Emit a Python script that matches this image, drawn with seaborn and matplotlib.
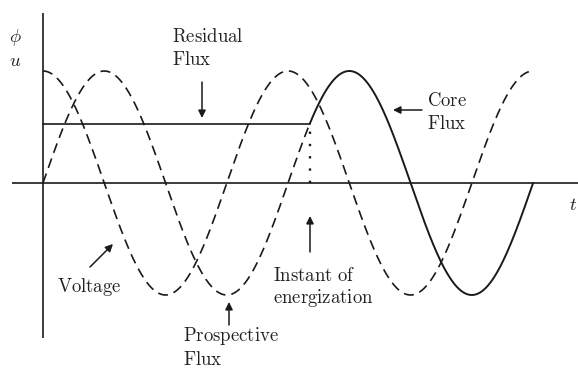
import numpy as np
import pandas as pd
import matplotlib
matplotlib.use("Agg")
import matplotlib.pyplot as plt
import seaborn as sns

# Waveform description (per-unit amplitude, angle in radians of wt)
amplitude = [1.0, 1.0]            # voltage, prospective/core flux
phase_shift = [np.pi / 2, 0.0]    # voltage leads flux by 90 degrees
span_cycles = [2.0]               # both waveforms shown over two cycles
residual_flux = [0.53]            # remanent flux before switching

# Figure geometry: pixels per radian / per unit, origin position in pixels
W, H = 578, 369
ORIGIN_PX = (43, 183)
PX_PER_RAD = 39.0
PX_PER_PU = 112.0

sns.set_theme(style="white")
plt.rcParams["mathtext.fontset"] = "cm"
plt.rcParams["font.family"] = ["DejaVu Serif"]

fig = plt.figure(figsize=(W / 100, H / 100), dpi=100)
ax = fig.add_axes([0, 0, 1, 1])
ax.set_xlim(-ORIGIN_PX[0] / PX_PER_RAD, (W - ORIGIN_PX[0]) / PX_PER_RAD)
ax.set_ylim(-(H - ORIGIN_PX[1]) / PX_PER_PU, ORIGIN_PX[1] / PX_PER_PU)
ax.axis("off")


def at(xp, yp):
    """Layout helper: pixel position -> data coordinates."""
    return ((xp - ORIGIN_PX[0]) / PX_PER_RAD, (ORIGIN_PX[1] - yp) / PX_PER_PU)


ink = "#1a1a1a"
lw = 1.2
dash = (0, (6, 3.6))

t_end = 2 * np.pi * span_cycles[0]
t_on = 2 * np.pi + np.arcsin(residual_flux[0] / amplitude[1])  # instant of energization

wt = np.linspace(0, t_end, 1200)
voltage = pd.DataFrame({"wt": wt, "value": amplitude[0] * np.sin(wt + phase_shift[0])})

wt_pre = wt[wt <= t_on]
prospective = pd.DataFrame({"wt": wt_pre,
                            "value": amplitude[1] * np.sin(wt_pre + phase_shift[1])})
wt_post = np.linspace(t_on, t_end, 600)
core = pd.DataFrame({"wt": wt_post,
                     "value": amplitude[1] * np.sin(wt_post + phase_shift[1])})
residual = pd.DataFrame({"wt": [0.0, t_on], "value": [residual_flux[0]] * 2})

# Coordinate axes
x0, _ = at(12, 0)
_, ytop = at(0, 13)
_, ybot = at(0, 338)
ax.plot([x0, ax.get_xlim()[1]], [0, 0], color=ink, lw=lw, solid_capstyle="butt")
ax.plot([0, 0], [ybot, ytop], color=ink, lw=lw, solid_capstyle="butt")

# Curves
sns.lineplot(data=voltage, x="wt", y="value", ax=ax, color=ink, lw=lw,
             linestyle=dash, errorbar=None, sort=False)
sns.lineplot(data=prospective, x="wt", y="value", ax=ax, color=ink, lw=lw,
             linestyle=dash, errorbar=None, sort=False)
sns.lineplot(data=residual, x="wt", y="value", ax=ax, color=ink, lw=lw,
             errorbar=None, sort=False)
sns.lineplot(data=core, x="wt", y="value", ax=ax, color=ink, lw=lw + 0.2,
             errorbar=None, sort=False)
ax.plot([t_on, t_on], [residual_flux[0], 0], color=ink, lw=1.7,
        linestyle=(2, (1.0, 4.2)))
ax.set_xlabel("")
ax.set_ylabel("")

# Text labels
fs = 13.5
txt = dict(color="#222222", fontsize=fs, va="center", ha="left")


def label(lines, xp, yp, step=23):
    for i, s in enumerate(lines):
        ax.text(*at(xp, yp + i * step), s, **txt)


label([r"$\mathrm{Residual}$", r"$\mathrm{Flux}$"], 172, 37)
label([r"$\mathrm{Core}$", r"$\mathrm{Flux}$"], 427, 101)
label([r"$\mathrm{Voltage}$"], 57, 287)
label([r"$\mathrm{Prospective}$", r"$\mathrm{Flux}$"], 183, 336, step=24)
label([r"$\mathrm{Instant\ of}$", r"$\mathrm{energization}$"], 273, 276, step=22)

ax.text(*at(15, 38), r"$\phi$", color="#222222", fontsize=fs, ha="center", va="center")
ax.text(*at(15, 61), r"$u$", color="#222222", fontsize=fs, ha="center", va="center")
ax.text(*at(573, 205), r"$t$", color="#222222", fontsize=fs, ha="center", va="center")

# Pointer arrows
arrow = dict(arrowstyle="-|>", color=ink, lw=1.1, mutation_scale=11,
             shrinkA=0, shrinkB=0)
for tail, head in [((202, 82), (202, 118)),
                   ((422, 110), (393, 110)),
                   ((90, 267), (113, 244)),
                   ((229, 325), (229, 302)),
                   ((310, 252), (310, 216))]:
    ax.annotate("", xy=at(*head), xytext=at(*tail), arrowprops=arrow)

fig.savefig("out.png", dpi=100)
